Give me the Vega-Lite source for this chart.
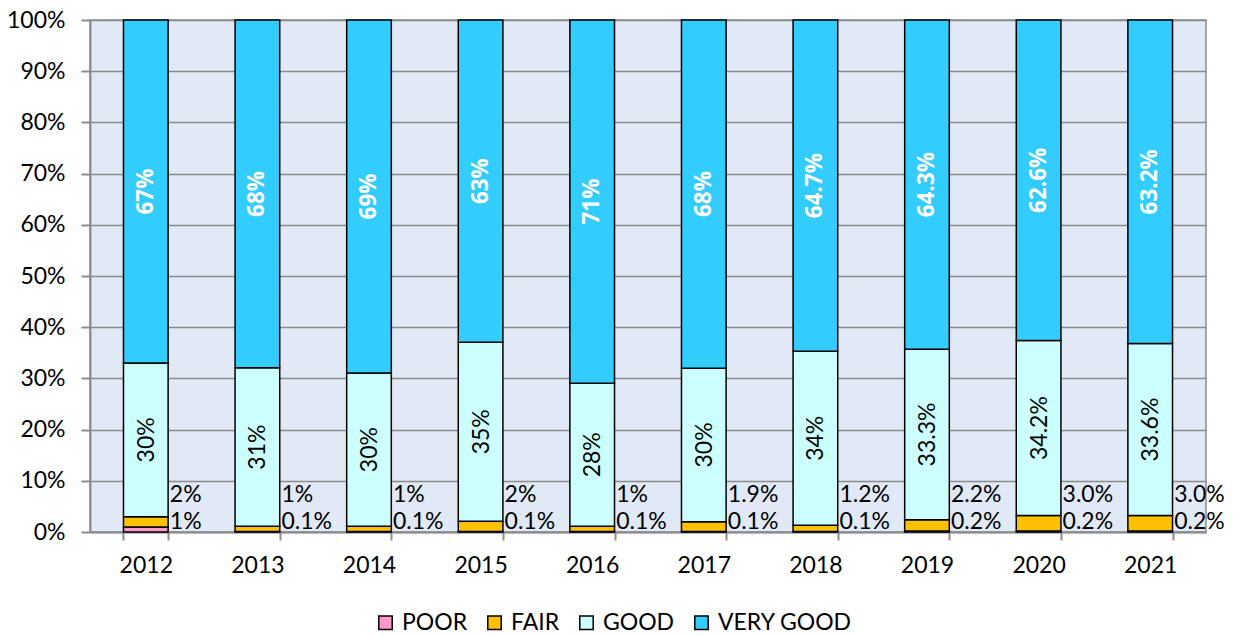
{
  "$schema": "https://vega.github.io/schema/vega-lite/v6.json",
  "autosize": {"type": "none"},
  "padding": {"left": 90, "top": 20, "right": 33, "bottom": 104},
  "width": 1116,
  "height": 512,
  "background": "white",
  "config": {
    "font": "Lato",
    "view": {"fill": "#E1E9F6", "stroke": "#8C8C8C", "strokeWidth": 1.5}
  },
  "data": {
    "values": [
      {"year": "2012", "cat": "POOR", "value": 1, "label": "1%"},
      {"year": "2012", "cat": "FAIR", "value": 2, "label": "2%"},
      {"year": "2012", "cat": "GOOD", "value": 30, "label": "30%"},
      {"year": "2012", "cat": "VERY GOOD", "value": 67, "label": "67%"},
      {"year": "2013", "cat": "POOR", "value": 0.1, "label": "0.1%"},
      {"year": "2013", "cat": "FAIR", "value": 1, "label": "1%"},
      {"year": "2013", "cat": "GOOD", "value": 31, "label": "31%"},
      {"year": "2013", "cat": "VERY GOOD", "value": 68, "label": "68%"},
      {"year": "2014", "cat": "POOR", "value": 0.1, "label": "0.1%"},
      {"year": "2014", "cat": "FAIR", "value": 1, "label": "1%"},
      {"year": "2014", "cat": "GOOD", "value": 30, "label": "30%"},
      {"year": "2014", "cat": "VERY GOOD", "value": 69, "label": "69%"},
      {"year": "2015", "cat": "POOR", "value": 0.1, "label": "0.1%"},
      {"year": "2015", "cat": "FAIR", "value": 2, "label": "2%"},
      {"year": "2015", "cat": "GOOD", "value": 35, "label": "35%"},
      {"year": "2015", "cat": "VERY GOOD", "value": 63, "label": "63%"},
      {"year": "2016", "cat": "POOR", "value": 0.1, "label": "0.1%"},
      {"year": "2016", "cat": "FAIR", "value": 1, "label": "1%"},
      {"year": "2016", "cat": "GOOD", "value": 28, "label": "28%"},
      {"year": "2016", "cat": "VERY GOOD", "value": 71, "label": "71%"},
      {"year": "2017", "cat": "POOR", "value": 0.1, "label": "0.1%"},
      {"year": "2017", "cat": "FAIR", "value": 1.9, "label": "1.9%"},
      {"year": "2017", "cat": "GOOD", "value": 30, "label": "30%"},
      {"year": "2017", "cat": "VERY GOOD", "value": 68, "label": "68%"},
      {"year": "2018", "cat": "POOR", "value": 0.1, "label": "0.1%"},
      {"year": "2018", "cat": "FAIR", "value": 1.2, "label": "1.2%"},
      {"year": "2018", "cat": "GOOD", "value": 34, "label": "34%"},
      {"year": "2018", "cat": "VERY GOOD", "value": 64.7, "label": "64.7%"},
      {"year": "2019", "cat": "POOR", "value": 0.2, "label": "0.2%"},
      {"year": "2019", "cat": "FAIR", "value": 2.2, "label": "2.2%"},
      {"year": "2019", "cat": "GOOD", "value": 33.3, "label": "33.3%"},
      {"year": "2019", "cat": "VERY GOOD", "value": 64.3, "label": "64.3%"},
      {"year": "2020", "cat": "POOR", "value": 0.2, "label": "0.2%"},
      {"year": "2020", "cat": "FAIR", "value": 3.0, "label": "3.0%"},
      {"year": "2020", "cat": "GOOD", "value": 34.2, "label": "34.2%"},
      {"year": "2020", "cat": "VERY GOOD", "value": 62.6, "label": "62.6%"},
      {"year": "2021", "cat": "POOR", "value": 0.2, "label": "0.2%"},
      {"year": "2021", "cat": "FAIR", "value": 3.0, "label": "3.0%"},
      {"year": "2021", "cat": "GOOD", "value": 33.6, "label": "33.6%"},
      {"year": "2021", "cat": "VERY GOOD", "value": 63.2, "label": "63.2%"}
    ]
  },
  "transform": [
    {"calculate": "indexof(['POOR','FAIR','GOOD','VERY GOOD'], datum.cat)", "as": "ord"},
    {"stack": "value", "groupby": ["year"], "sort": [{"field": "ord", "order": "ascending"}], "offset": "normalize", "as": ["v0", "v1"]},
    {"calculate": "(datum.v0 + datum.v1) / 2", "as": "mid"}
  ],
  "encoding": {
    "x": {
      "field": "year",
      "type": "nominal",
      "title": null,
      "scale": {"paddingInner": 0.6, "paddingOuter": 0.3},
      "axis": {
        "labelAngle": 0,
        "labelFontSize": 23,
        "labelColor": "#000000",
        "labelPadding": 14,
        "domainColor": "#8C8C8C",
        "domainWidth": 2,
        "tickColor": "#8C8C8C",
        "tickWidth": 2,
        "tickSize": 8,
        "tickBand": "extent"
      }
    }
  },
  "layer": [
    {
      "mark": {"type": "bar", "stroke": "#000000", "strokeWidth": 1.5},
      "encoding": {
        "y": {
          "field": "v0",
          "type": "quantitative",
          "title": null,
          "scale": {"domain": [0, 1], "nice": false},
          "axis": {
            "format": "%",
            "values": [0, 0.1, 0.2, 0.3, 0.4, 0.5, 0.6, 0.7, 0.8, 0.9, 1],
            "labelFontSize": 23,
            "labelColor": "#000000",
            "labelPadding": 16,
            "domainColor": "#8C8C8C",
            "domainWidth": 2,
            "tickColor": "#8C8C8C",
            "tickWidth": 2,
            "tickSize": 9,
            "gridColor": "#8C8C8C",
            "gridWidth": 1.5
          }
        },
        "y2": {"field": "v1"},
        "color": {
          "field": "cat",
          "type": "nominal",
          "scale": {
            "domain": ["POOR", "FAIR", "GOOD", "VERY GOOD"],
            "range": ["#FF99CC", "#FFC000", "#CCFFFF", "#33CCFF"]
          },
          "legend": {
            "title": null,
            "orient": "none",
            "direction": "horizontal",
            "legendX": 284,
            "legendY": 591,
            "symbolType": "square",
            "symbolSize": 180,
            "symbolStrokeColor": "#000000",
            "symbolStrokeWidth": 1.5,
            "symbolOpacity": 1,
            "labelFontSize": 23,
            "labelColor": "#000000",
            "labelOffset": 5,
            "columnPadding": 15
          }
        }
      }
    },
    {
      "transform": [{"filter": "datum.cat === 'VERY GOOD'"}],
      "mark": {"type": "text", "angle": 270, "color": "#FFFFFF", "font": "Open Sans", "fontWeight": "bold", "fontSize": 22.5, "align": "center", "baseline": "middle"},
      "encoding": {
        "y": {"field": "mid", "type": "quantitative"},
        "text": {"field": "label"}
      }
    },
    {
      "transform": [{"filter": "datum.cat === 'GOOD'"}],
      "mark": {"type": "text", "angle": 270, "color": "#000000", "fontSize": 23, "align": "center", "baseline": "middle", "dx": 0, "dy": 1},
      "encoding": {
        "y": {"field": "mid", "type": "quantitative"},
        "text": {"field": "label"}
      }
    },
    {
      "transform": [{"filter": "datum.cat === 'FAIR'"}],
      "mark": {"type": "text", "color": "#000000", "fontSize": 23, "align": "left", "baseline": "middle", "dx": 24},
      "encoding": {
        "y": {"datum": 0.072, "type": "quantitative"},
        "text": {"field": "label"}
      }
    },
    {
      "transform": [{"filter": "datum.cat === 'POOR'"}],
      "mark": {"type": "text", "color": "#000000", "fontSize": 23, "align": "left", "baseline": "middle", "dx": 24},
      "encoding": {
        "y": {"datum": 0.02, "type": "quantitative"},
        "text": {"field": "label"}
      }
    }
  ]
}
